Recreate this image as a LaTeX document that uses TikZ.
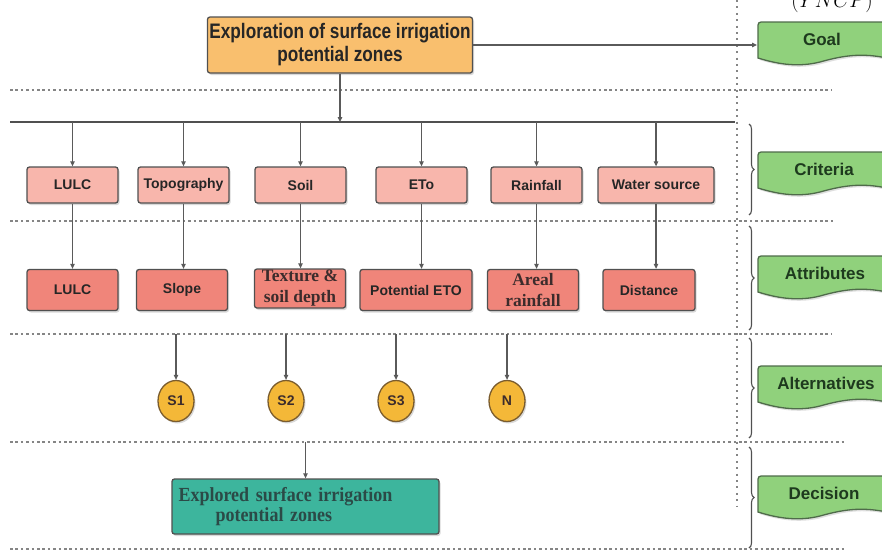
\documentclass[tikz,border=0pt]{standalone}
\usepackage{fontspec}
\setmainfont{Liberation Sans}
\newfontfamily\narrowsans[FakeStretch=0.82]{Liberation Sans}
\newfontfamily\narrowserif[FakeStretch=0.9]{Liberation Serif}
\newfontfamily\plainserif{Liberation Serif}
\usetikzlibrary{arrows.meta,decorations.pathreplacing,shadows,shapes.geometric}

\definecolor{goalorange}{HTML}{F9BF6E}
\definecolor{critpink}{HTML}{F8B6AC}
\definecolor{attrsalmon}{HTML}{F0857A}
\definecolor{altyellow}{HTML}{F4B838}
\definecolor{altborder}{HTML}{7A5C2E}
\definecolor{decteal}{HTML}{3DB59D}
\definecolor{dectext}{HTML}{2B4A47}
\definecolor{levelgreen}{HTML}{90D17C}
\definecolor{bannerborder}{HTML}{4F6B4A}
\definecolor{bannertext}{HTML}{1E3A1E}
\definecolor{edgegray}{HTML}{505050}
\definecolor{linkgray}{HTML}{5A5A5A}
\definecolor{sepgray}{HTML}{858585}
\definecolor{textbrown}{HTML}{3C2C2C}

\begin{document}
\begin{tikzpicture}[x=1pt, y=-1pt,
  link/.style={draw=linkgray, line width=1.1pt, -{Triangle[length=5pt,width=4.5pt]}},
  sep/.style={draw=sepgray, line width=2.8pt, dash pattern=on 2.6pt off 2.8pt},
  vsep/.style={draw=sepgray, line width=1.9pt, dash pattern=on 1.9pt off 4.5pt},
  box/.style={draw=edgegray, line width=1.3pt, rounded corners=2.5pt, inner sep=0pt,
    text=black!85, drop shadow={opacity=0.3, shadow xshift=1.5pt, shadow yshift=-2pt}},
  critbox/.style={box, fill=critpink, minimum width=91pt, minimum height=36pt,
    font=\bfseries\fontsize{14}{16}\selectfont},
  attrbox/.style={box, fill=attrsalmon, minimum width=91pt, minimum height=41pt,
    font=\bfseries\fontsize{14}{16}\selectfont},
  serifattr/.style={attrbox, align=center, text=textbrown,
    font=\plainserif\bfseries\fontsize{17.5}{21}\selectfont},
  altnode/.style={ellipse, draw=altborder, line width=1.3pt, fill=altyellow,
    minimum width=36pt, minimum height=41pt, inner sep=0pt, text=textbrown,
    font=\bfseries\fontsize{14}{16}\selectfont,
    drop shadow={opacity=0.3, shadow xshift=1.5pt, shadow yshift=-2pt}},
  levelbrace/.style={draw=edgegray, line width=1.1pt, decorate, decoration={brace, amplitude=5pt}},
  banner/.style={draw=bannerborder, line width=1.3pt, fill=levelgreen,
    drop shadow={opacity=0.25, shadow xshift=1.5pt, shadow yshift=-2pt}},
  bannerlabel/.style={font=\bfseries\fontsize{17}{19}\selectfont, text=bannertext}
]
\useasboundingbox (0,0) rectangle (882,552);

\node[anchor=base, font=\fontsize{20}{22}\selectfont] (yncp) at (832,7) {$(YNCP)$};

% separators
\draw[sep] (10,90) coordinate (sepA) -- (832,90);
\draw[sep] (10,221) coordinate (sepB) -- (834,221);
\draw[sep] (10,334) coordinate (sepC) -- (832,334);
\draw[sep] (10,442) coordinate (sepD) -- (845,442);
\draw[sep] (10,549) coordinate (sepE) -- (845,549);
\draw[vsep] (737,0) -- (737,506);
\coordinate (flagedge) at (757,0);

% goal
\node[box, fill=goalorange, minimum width=265pt, minimum height=56pt, align=center,
  font=\narrowsans\bfseries\fontsize{21}{23}\selectfont] (goal) at (340,45)
  {Exploration of surface irrigation\\potential zones};
\draw[link] (goal.east) -- (goal.east -| flagedge);

\draw[draw=edgegray, line width=2.2pt] (10,122) coordinate (barL) -- (735,122) coordinate (barR);
\draw[link] (goal.south) -- (goal.south |- barL);

% criteria
\node[critbox] (lulcC) at (72.5,185) {LULC};
\node[critbox] (topoC) at (183.5,185) {Topography};
\node[critbox] (soilC) at (300.5,185) {Soil};
\node[critbox] (etoC) at (421.5,185) {ETo};
\node[critbox] (rainC) at (536.5,185) {Rainfall};
\node[critbox, minimum width=116pt] (waterC) at (656,185) {Water source};

\draw[link] (lulcC.north |- barL) -- (lulcC.north);
\draw[link] (topoC.north |- barL) -- (topoC.north);
\draw[link] (soilC.north |- barL) -- (soilC.north);
\draw[link] (etoC.north |- barL) -- (etoC.north);
\draw[link] (rainC.north |- barL) -- (rainC.north);
\draw[link] (waterC.north |- barL) -- (waterC.north);

% attributes
\node[attrbox] (lulcA) at (72.5,290) {LULC};
\node[attrbox] (slopeA) at (182,290) {Slope};
\node[serifattr, minimum height=39pt] (textureA) at (300,288.5) {Texture \&\\soil depth};
\node[attrbox, minimum width=112pt] (petoA) at (416,290) {Potential ETO};
\node[serifattr] (arealA) at (533,290) {Areal\\rainfall};
\node[attrbox, minimum width=92pt] (distA) at (649,290) {Distance};

\draw[link] (lulcC.south) -- (lulcC.south |- lulcA.north);
\draw[link] (topoC.south) -- (topoC.south |- slopeA.north);
\draw[link] (soilC.south) -- (soilC.south |- textureA.north);
\draw[link] (etoC.south) -- (etoC.south |- petoA.north);
\draw[link] (rainC.south) -- (rainC.south |- arealA.north);
\draw[link] (waterC.south) -- (waterC.south |- distA.north);

% alternatives
\node[altnode] (s1) at (176,401) {S1};
\node[altnode] (s2) at (286,401) {S2};
\node[altnode] (s3) at (396,401) {S3};
\node[altnode] (nn) at (507,401) {N};

\draw[link] (s1 |- sepC) -- (s1.north);
\draw[link] (s2 |- sepC) -- (s2.north);
\draw[link] (s3 |- sepC) -- (s3.north);
\draw[link] (nn |- sepC) -- (nn.north);

% decision
\node[box, fill=decteal, minimum height=55pt, text width=254pt, inner xsep=6.5pt,
  align=left, text=dectext, font=\narrowserif\bfseries\fontsize{20}{20}\selectfont]
  (explored) at (305.5,506.5) {Explored surface irrigation\\\hspace*{37pt}potential zones};
\draw[link] (explored |- sepD) -- (explored.north);

% levels
\draw[levelbrace] (749,124) -- (749,215);
\draw[levelbrace] (749,226) -- (749,330);
\draw[levelbrace] (749,338) -- (749,438);
\draw[levelbrace] (749,447) -- (749,548);

\filldraw[banner, shift={(0,39)}] (761,-17) -- (895,-17) -- (895,21)
  .. controls (865,13) and (845,16) .. (820,23) .. controls (800,28) and (780,26) .. (758,19)
  -- (758,-14) to[out=90, in=180] cycle;
\filldraw[banner, shift={(0,169)}] (761,-17) -- (895,-17) -- (895,21)
  .. controls (865,13) and (845,16) .. (820,23) .. controls (800,28) and (780,26) .. (758,19)
  -- (758,-14) to[out=90, in=180] cycle;
\filldraw[banner, shift={(0,273)}] (761,-17) -- (895,-17) -- (895,21)
  .. controls (865,13) and (845,16) .. (820,23) .. controls (800,28) and (780,26) .. (758,19)
  -- (758,-14) to[out=90, in=180] cycle;
\filldraw[banner, shift={(0,383)}] (761,-17) -- (895,-17) -- (895,21)
  .. controls (865,13) and (845,16) .. (820,23) .. controls (800,28) and (780,26) .. (758,19)
  -- (758,-14) to[out=90, in=180] cycle;
\filldraw[banner, shift={(0,493)}] (761,-17) -- (895,-17) -- (895,21)
  .. controls (865,13) and (845,16) .. (820,23) .. controls (800,28) and (780,26) .. (758,19)
  -- (758,-14) to[out=90, in=180] cycle;

\node[bannerlabel] (goalflag) at (822,39) {Goal};
\node[bannerlabel] (critflag) at (824,169) {Criteria};
\node[bannerlabel] (attrflag) at (825,273) {Attributes};
\node[bannerlabel] (altflag) at (826,383) {Alternatives};
\node[bannerlabel] (decflag) at (824,493) {Decision};
\end{tikzpicture}
\end{document}
